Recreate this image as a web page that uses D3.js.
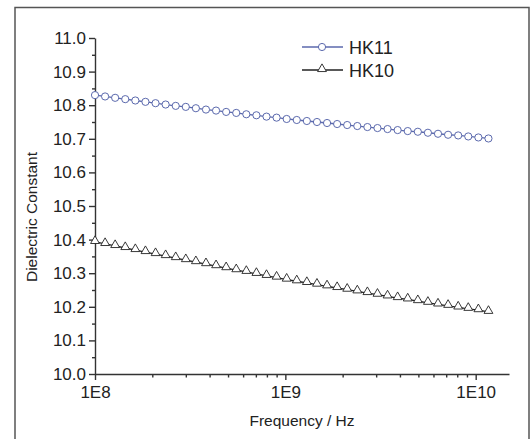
<!DOCTYPE html>
<html><head><meta charset="utf-8">
<script src="https://cdn.jsdelivr.net/npm/d3@7"></script>
<style>body{margin:0;background:#fff}svg{display:block;font-family:"Liberation Sans",Arial,sans-serif}</style>
</head><body><div id="chart"></div>
<script>
const frequencies = [1.000e8,1.130e8,1.276e8,1.442e8,1.629e8,1.841e8,2.080e8,2.350e8,2.655e8,2.999e8,
  3.388e8,3.828e8,4.325e8,4.887e8,5.521e8,6.237e8,7.047e8,7.962e8,8.995e8,1.016e9,
  1.148e9,1.297e9,1.466e9,1.656e9,1.871e9,2.113e9,2.388e9,2.698e9,3.048e9,3.443e9,
  3.890e9,4.395e9,4.966e9,5.610e9,6.339e9,7.161e9,8.091e9,9.141e9,1.033e10,1.167e10];
const hk11 = [10.830,10.826,10.822,10.818,10.814,10.810,10.806,10.802,10.798,10.795,
  10.791,10.787,10.784,10.780,10.777,10.773,10.770,10.766,10.763,10.759,
  10.756,10.753,10.750,10.747,10.744,10.741,10.738,10.735,10.732,10.729,
  10.726,10.723,10.721,10.718,10.715,10.712,10.710,10.707,10.704,10.701];
const hk10 = [10.393,10.387,10.381,10.375,10.369,10.363,10.357,10.351,10.345,10.339,
  10.333,10.327,10.321,10.315,10.309,10.304,10.298,10.292,10.287,10.281,
  10.276,10.271,10.266,10.261,10.256,10.251,10.246,10.241,10.236,10.231,
  10.226,10.222,10.217,10.212,10.207,10.203,10.198,10.194,10.190,10.185];
const seriesNames = ["HK11","HK10"];
const xTickValues = [1e8,1e9,1e10];
const xTickLabels = ["1E8","1E9","1E10"];
const yTickValues = [10.0,10.1,10.2,10.3,10.4,10.5,10.6,10.7,10.8,10.9,11.0];

const W = 532, H = 439;
const svg = d3.select("#chart").append("svg").attr("width", W).attr("height", H);

// outer frame
svg.append("rect").attr("x",15).attr("y",7.5).attr("width",514).attr("height",440)
  .attr("fill","none").attr("stroke","#555").attr("stroke-width",1.5);

const x = d3.scaleLog().domain([1e8, Math.pow(10, 10.175)]).range([95, 509]);
const y = d3.scaleLinear().domain([10, 11]).range([374, 38]);

const axisColor = "#333";
const tickFont = 17;
// X axis
const gx = svg.append("g").attr("transform","translate(0,374)");
const minorX = [];
[1e8,1e9,1e10].forEach(d => { for (let k=2;k<=9;k++){ const v=d*k; if (v<=x.domain()[1]) minorX.push(v);} });
gx.append("g").call(d3.axisBottom(x).tickValues(minorX).tickSize(3.5).tickFormat(""))
  .call(g => g.select(".domain").remove());
gx.append("g").call(d3.axisBottom(x).tickValues(xTickValues).tickSize(6).tickSizeOuter(0).tickPadding(6)
  .tickFormat((d,i) => xTickLabels[i]));
gx.selectAll("line,path").attr("stroke",axisColor).attr("stroke-width",1.4);
gx.selectAll("text").attr("font-size",tickFont).attr("fill","#222").attr("font-family","Liberation Sans, Arial, sans-serif");

// Y axis
const gy = svg.append("g").attr("transform","translate(95,0)");
const minorY = yTickValues.slice(0,-1).map(v => v + 0.05);
gy.append("g").call(d3.axisLeft(y).tickValues(minorY).tickSize(3).tickFormat(""))
  .call(g => g.select(".domain").remove());
gy.append("g").call(d3.axisLeft(y).tickValues(yTickValues).tickSize(6).tickSizeOuter(0).tickPadding(3)
  .tickFormat(d3.format(".1f")));
gy.selectAll("line,path").attr("stroke",axisColor).attr("stroke-width",1.4);
gy.selectAll("text").attr("font-size",tickFont).attr("fill","#222").attr("font-family","Liberation Sans, Arial, sans-serif");

// Axis titles
svg.append("text").attr("x",302).attr("y",426).attr("text-anchor","middle")
  .attr("font-size",15.5).attr("fill","#222").text("Frequency / Hz");
svg.append("text").attr("transform","translate(37,217) rotate(-90)").attr("text-anchor","middle")
  .attr("font-size",15.5).attr("fill","#222").text("Dielectric Constant");

const blue = "#5b69ad", black = "#222";
const line = d3.line().x(d => x(d[0])).y(d => y(d[1]));
const d11 = frequencies.map((f,i) => [f, hk11[i]]);
const d10 = frequencies.map((f,i) => [f, hk10[i]]);

svg.append("path").datum(d11).attr("d",line).attr("fill","none").attr("stroke",blue).attr("stroke-width",1.3);
svg.append("path").datum(d10).attr("d",line).attr("fill","none").attr("stroke",black).attr("stroke-width",1.3);

const tri = d3.symbol().type(d3.symbolTriangle).size(34);
svg.append("g").selectAll("circle").data(d11).join("circle")
  .attr("cx",d => x(d[0])).attr("cy",d => y(d[1])).attr("r",3.6)
  .attr("fill","#fff").attr("stroke",blue).attr("stroke-width",1);
svg.append("g").selectAll("path").data(d10).join("path")
  .attr("d",tri).attr("transform",d => `translate(${x(d[0])},${y(d[1])-1})`)
  .attr("fill","#fff").attr("stroke",black).attr("stroke-width",0.9);

// Legend
const lg = svg.append("g");
const rows = [{name:seriesNames[0], c:blue, t:"c", yy:47},{name:seriesNames[1], c:black, t:"t", yy:70}];
rows.forEach(r => {
  lg.append("line").attr("x1",302).attr("x2",343).attr("y1",r.yy).attr("y2",r.yy).attr("stroke",r.c).attr("stroke-width",1.3);
  if (r.t==="c") lg.append("circle").attr("cx",322).attr("cy",r.yy).attr("r",3.6).attr("fill","#fff").attr("stroke",r.c);
  else lg.append("path").attr("d",tri).attr("transform",`translate(322,${r.yy-1})`).attr("fill","#fff").attr("stroke",r.c).attr("stroke-width",0.9);
  lg.append("text").attr("x",349).attr("y",r.yy+6.5).attr("font-size",18).attr("fill","#222").text(r.name);
});
</script></body></html>
